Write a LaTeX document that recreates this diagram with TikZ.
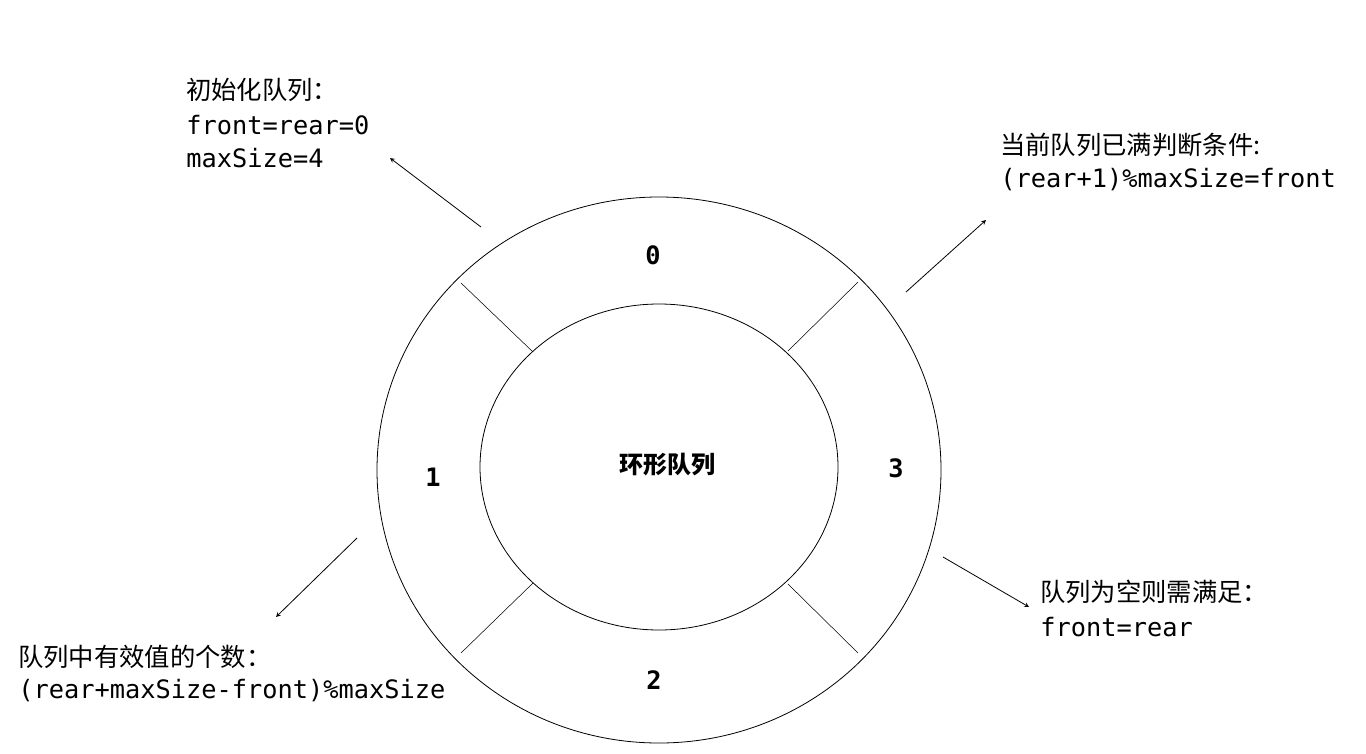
\documentclass[tikz,border=0pt]{standalone}
\usepackage{fontspec}
\setmonofont{DejaVu Sans Mono}
\newfontfamily\cjk{Noto Sans CJK SC}
\begin{document}
\begin{tikzpicture}[x=0.75pt,y=-0.75pt,
  txt/.style={anchor=west,font=\fontsize{19}{23}\selectfont\ttfamily,inner sep=0pt,align=left},
  num/.style={font=\fontsize{19}{23}\selectfont\ttfamily\bfseries},
  arr/.style={-stealth,line width=0.6pt}]
\useasboundingbox (0,0) rectangle (1366,753);
\draw[line width=0.6pt] (659,470) ellipse [x radius=282, y radius=273];
\draw[line width=0.6pt] (659,467) ellipse [x radius=179, y radius=163];
\draw (461,283)--(533,352) (858,282)--(788,351) (461,653)--(533,583) (858,653)--(788,584);
\node[num] (n0) at (653,255) {0};
\node[num] (n1) at (433,477) {1};
\node[num] (n3) at (896,468) {3};
\node[num] (n2) at (654,680) {2};
\node[font=\fontsize{18}{22}\selectfont\cjk\bfseries] (c) at (667,465) {环形队列};
\coordinate (a1s) at (481,227); \coordinate (a1e) at (390,158);
\coordinate (a2s) at (906,292); \coordinate (a2e) at (986,220);
\coordinate (a3s) at (357,538); \coordinate (a3e) at (276,617);
\coordinate (a4s) at (943,557); \coordinate (a4e) at (1029,607);
\draw[arr] (a1s)--(a1e); \draw[arr] (a2s)--(a2e); \draw[arr] (a3s)--(a3e); \draw[arr] (a4s)--(a4e);
\node[txt] (t1) at (186,90) {{\cjk 初始化队列：}};
\node[txt] (t1b) at (186,125) {front=rear=0};
\node[txt] (t1c) at (186,158) {maxSize=4};
\node[txt] (t2) at (1000,145) {{\cjk 当前队列已满判断条件:}};
\node[txt] (t2b) at (1000,180) {(rear+1)\%maxSize=front};
\node[txt] (t3) at (1040,592) {{\cjk 队列为空则需满足：}};
\node[txt] (t3b) at (1040,627) {front=rear};
\node[txt] (t4) at (18,657) {{\cjk 队列中有效值的个数：}};
\node[txt] (t4b) at (18,691) {(rear+maxSize-front)\%maxSize};
\end{tikzpicture}
\end{document}
